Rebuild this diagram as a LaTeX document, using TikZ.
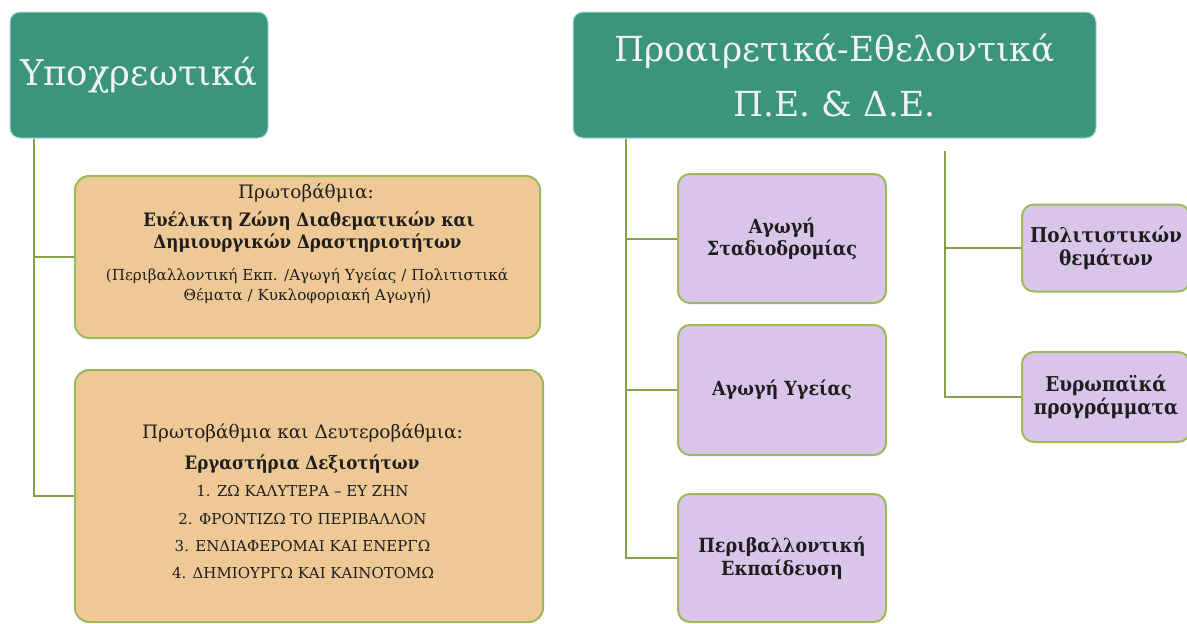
\documentclass[tikz,border=0pt]{standalone}
\usepackage{fontspec}
\setmainfont{DejaVu Serif}
\newfontfamily\condfont{DejaVu Serif Condensed}
\definecolor{teal1}{HTML}{3A957C}
\definecolor{tealedge}{HTML}{A6DDD5}
\definecolor{tan1}{HTML}{EEC995}
\definecolor{lav}{HTML}{D9C4EA}
\definecolor{grn}{HTML}{9BBB59}
\definecolor{txt}{HTML}{1E1E1E}
\begin{document}
\begin{tikzpicture}[x=1pt,y=-1pt,
  header/.style={draw=tealedge,line width=1pt,fill=teal1,rounded corners=10pt,text=white!95!black,inner sep=0pt},
  tanbox/.style={draw=grn,line width=2pt,fill=tan1,rounded corners=14pt,inner sep=0pt},
  lavbox/.style={draw=grn,line width=2pt,fill=lav,rounded corners=12pt,inner sep=0pt,text=txt,align=center,font=\condfont\bfseries\fontsize{19.5}{22.5}\selectfont},
  lavsmall/.style={lavbox,font=\condfont\bfseries\fontsize{20.5}{23.5}\selectfont},
  conn/.style={draw=grn!85!black,line width=2pt},
  plain/.style={text=txt,inner sep=0pt,font=\fontsize{18.5}{22}\selectfont},
  boldl/.style={text=txt,inner sep=0pt,font=\condfont\bfseries\fontsize{18.5}{22}\selectfont},
  small/.style={text=txt,inner sep=0pt,font=\fontsize{15.2}{18}\selectfont},
  listl/.style={text=txt,inner sep=0pt,font=\fontsize{15}{18}\selectfont}]
\useasboundingbox (0,0) rectangle (1187,624);
\clip (0,0) rectangle (1187,624);
\fill[white] (0,0) rectangle (1187,624);
% headers
\node[header,minimum width=258pt,minimum height=126pt,font=\fontsize{35.5}{40}\selectfont] (hl) at (139,75)
  {Υποχρεωτικά};
\node[header,minimum width=523pt,minimum height=126pt,align=center,font=\fontsize{34.5}{55}\selectfont] (hr) at (834.5,75)
  {Προαιρετικά-Εθελοντικά\\Π.Ε. \& Δ.Ε.};
% left boxes
\node[tanbox,minimum width=465pt,minimum height=162pt] (b1) at (307.5,257) {};
\node[tanbox,minimum width=468pt,minimum height=252pt] (b2) at (309,496) {};
\node[plain] (t11) at (306,193) {Πρωτοβάθμια:};
\node[boldl] (t12) at (309,221) {Ευέλικτη Ζώνη Διαθεματικών και};
\node[boldl] (t13) at (307.5,243) {Δημιουργικών Δραστηριοτήτων};
\node[small] (t14) at (307,276) {(Περιβαλλοντική Εκπ. /Αγωγή Υγείας / Πολιτιστικά};
\node[small] (t15) at (307.5,296) {Θέματα / Κυκλοφοριακή Αγωγή)};
\node[plain] (t21) at (302.5,433) {Πρωτοβάθμια και Δευτεροβάθμια:};
\node[boldl] (t22) at (302,464) {Εργαστήρια Δεξιοτήτων};
\node[listl] (t23) at (302.5,491) {1. ΖΩ ΚΑΛΥΤΕΡΑ – ΕΥ ΖΗΝ};
\node[listl] (t24) at (302.5,519) {2. ΦΡΟΝΤΙΖΩ ΤΟ ΠΕΡΙΒΑΛΛΟΝ};
\node[listl] (t25) at (302.5,546) {3. ΕΝΔΙΑΦΕΡΟΜΑΙ ΚΑΙ ΕΝΕΡΓΩ};
\node[listl] (t26) at (303,573) {4. ΔΗΜΙΟΥΡΓΩ ΚΑΙ ΚΑΙΝΟΤΟΜΩ};
% right boxes
\node[lavbox,minimum width=208pt,minimum height=129pt] (ba) at (782,238.5) {Αγωγή\\Σταδιοδρομίας};
\node[lavbox,minimum width=208pt,minimum height=130pt] (bb) at (782,390) {Αγωγή Υγείας};
\node[lavbox,minimum width=208pt,minimum height=128pt] (bc) at (782,558) {Περιβαλλοντική\\Εκπαίδευση};
\node[lavsmall,minimum width=168pt,minimum height=87pt] (bd) at (1106,248) {Πολιτιστικών\\θεμάτων};
\node[lavsmall,minimum width=168pt,minimum height=90pt] (be) at (1106,397) {Ευρωπαϊκά\\προγράμματα};
% connectors
\coordinate (tl) at ([xshift=24pt]hl.south west);
\coordinate (tr) at ([xshift=53pt]hr.south west);
\coordinate (tr2) at (945,151);
\draw[conn] (tl) |- (b1.west);
\draw[conn] (tl) |- (b2.west);
\draw[conn] (tr) |- (ba.west);
\draw[conn] (tr) |- (bb.west);
\draw[conn] (tr) |- (bc.west);
\draw[conn] (tr2) |- (bd.west);
\draw[conn] (tr2) |- (be.west);
\end{tikzpicture}
\end{document}
